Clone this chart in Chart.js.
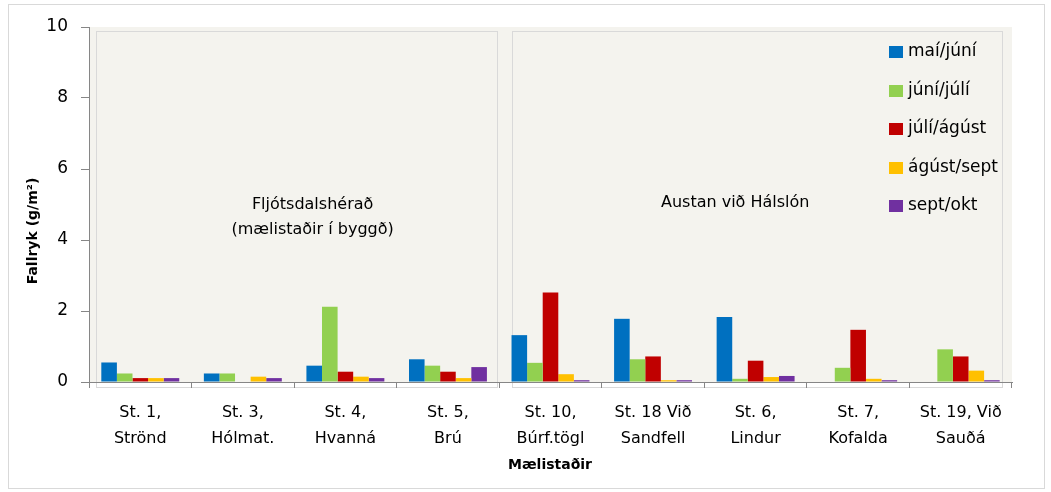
<!DOCTYPE html>
<html>
<head>
<meta charset="utf-8">
<script src="https://cdn.jsdelivr.net/npm/chart.js@4"></script>
<style>
  html, body { margin: 0; padding: 0; background: #fff; }
  #wrap { width: 1051px; height: 492px; }
</style>
</head>
<body>
<div id="wrap"><canvas id="dustChart" width="1051" height="492"></canvas></div>
<script>
// stations on the x axis (two lines each)
const stations = [
  ['St. 1,', 'Strönd'],
  ['St. 3,', 'Hólmat.'],
  ['St. 4,', 'Hvanná'],
  ['St. 5,', 'Brú'],
  ['St. 10,', 'Búrf.tögl'],
  ['St. 18 Við', 'Sandfell'],
  ['St. 6,', 'Lindur'],
  ['St. 7,', 'Kofalda'],
  ['St. 19, Við', 'Sauðá']
];

// fallryk (g/m2) per period
const maiJuni   = [0.55, 0.24, 0.46, 0.64, 1.32, 1.78, 1.83, 0, 0];
const juniJuli  = [0.24, 0.24, 2.12, 0.46, 0.54, 0.64, 0.09, 0.40, 0.92];
const juliAgust = [0.11, 0, 0.29, 0.29, 2.52, 0.72, 0.60, 1.47, 0.72];
const agustSept = [0.11, 0.15, 0.15, 0.11, 0.22, 0.05, 0.14, 0.09, 0.32];
const septOkt   = [0.11, 0.11, 0.11, 0.42, 0.05, 0.05, 0.17, 0.05, 0.05];

const yTicks = [0, 2, 4, 6, 8, 10];

const FONT = 'DejaVu Sans';
const AXIS_GREY = '#868686';

const periods = [
  { label: 'maí/júní', data: maiJuni, color: '#0070C0' },
  { label: 'júní/júlí', data: juniJuli, color: '#92D050' },
  { label: 'júlí/ágúst', data: juliAgust, color: '#C00000' },
  { label: 'ágúst/sept', data: agustSept, color: '#FFC000' },
  { label: 'sept/okt', data: septOkt, color: '#7030A0' }
];

// background, panel boxes, texts and legend
const decor = {
  id: 'decor',
  beforeDraw(chart) {
    const { ctx, chartArea: a, scales: { x } } = chart;
    ctx.save();
    ctx.fillStyle = '#fff';
    ctx.fillRect(0, 0, chart.width, chart.height);
    ctx.fillStyle = '#F4F3EE';
    ctx.fillRect(a.left, a.top, a.right - a.left, a.bottom - a.top);

    const split = (x.getPixelForValue(3) + x.getPixelForValue(4)) / 2;
    ctx.strokeStyle = '#D9D9D9';
    ctx.lineWidth = 1;
    ctx.strokeRect(Math.round(a.left + 7) + 0.5, a.top + 4.5, Math.round(split - a.left - 9), a.bottom - a.top + 1);
    ctx.strokeRect(Math.round(split + 13) + 0.5, a.top + 4.5, Math.round(a.right - split - 23), a.bottom - a.top + 1);
    ctx.restore();
  },
  afterDraw(chart) {
    const { ctx, chartArea: a, scales: { x } } = chart;
    const split = (x.getPixelForValue(3) + x.getPixelForValue(4)) / 2;
    ctx.save();
    ctx.fillStyle = '#000';
    ctx.textAlign = 'center';
    ctx.textBaseline = 'middle';
    ctx.font = '16px ' + FONT;
    const leftMid = (a.left + 7 + split - 2) / 2;
    ctx.fillText('Fljótsdalshérað', leftMid + 16, 205);
    ctx.fillText('(mælistaðir í byggð)', leftMid + 16, 230);
    ctx.fillText('Austan við Hálslón', split + 236, 203);

    // legend
    ctx.textAlign = 'left';
    ctx.font = '17px ' + FONT;
    const legendY = [52, 91, 129, 168, 206];
    periods.forEach((p, i) => {
      ctx.fillStyle = p.color;
      ctx.fillRect(889, legendY[i] - 6, 14, 12);
      ctx.fillStyle = '#000';
      ctx.fillText(p.label, 908, legendY[i]);
    });

    // axis titles
    ctx.font = 'bold 14px ' + FONT;
    ctx.textAlign = 'center';
    ctx.fillText('Mælistaðir', 550, 465);
    ctx.translate(33, 231);
    ctx.rotate(-Math.PI / 2);
    ctx.fillText('Fallryk (g/m²)', 0, 0);
    ctx.restore();

    // outer frame
    ctx.save();
    ctx.strokeStyle = '#D9D9D9';
    ctx.strokeRect(8.5, 4.5, 1036, 484);
    ctx.restore();
  }
};

new Chart(document.getElementById('dustChart'), {
  type: 'bar',
  data: {
    labels: stations,
    datasets: periods.map(p => ({
      label: p.label,
      data: p.data,
      backgroundColor: p.color,
      borderWidth: 0,
      categoryPercentage: 0.76,
      barPercentage: 1.0
    }))
  },
  options: {
    responsive: false,
    animation: false,
    layout: { padding: { top: 27, right: 39, left: 0, bottom: 0 } },
    plugins: {
      legend: { display: false },
      tooltip: { enabled: false }
    },
    scales: {
      x: {
        offset: true,
        grid: {
          offset: true,
          drawOnChartArea: false,
          color: AXIS_GREY,
          tickLength: 6
        },
        border: { color: AXIS_GREY, width: 1 },
        ticks: {
          color: '#000',
          font: { family: FONT, size: 16, lineHeight: 1.6 },
          padding: 12,
          maxRotation: 0,
          autoSkip: false
        },
        afterFit(scale) { scale.height = 110; }
      },
      y: {
        min: 0,
        max: 10,
        afterBuildTicks(scale) { scale.ticks = yTicks.map(v => ({ value: v })); },
        grid: {
          drawOnChartArea: false,
          color: AXIS_GREY,
          tickLength: 8
        },
        border: { color: AXIS_GREY, width: 1 },
        ticks: {
          color: '#000',
          font: { family: FONT, size: 17 },
          padding: 13
        },
        afterFit(scale) { scale.width = 89; }
      }
    }
  },
  plugins: [decor]
});
</script>
</body>
</html>
